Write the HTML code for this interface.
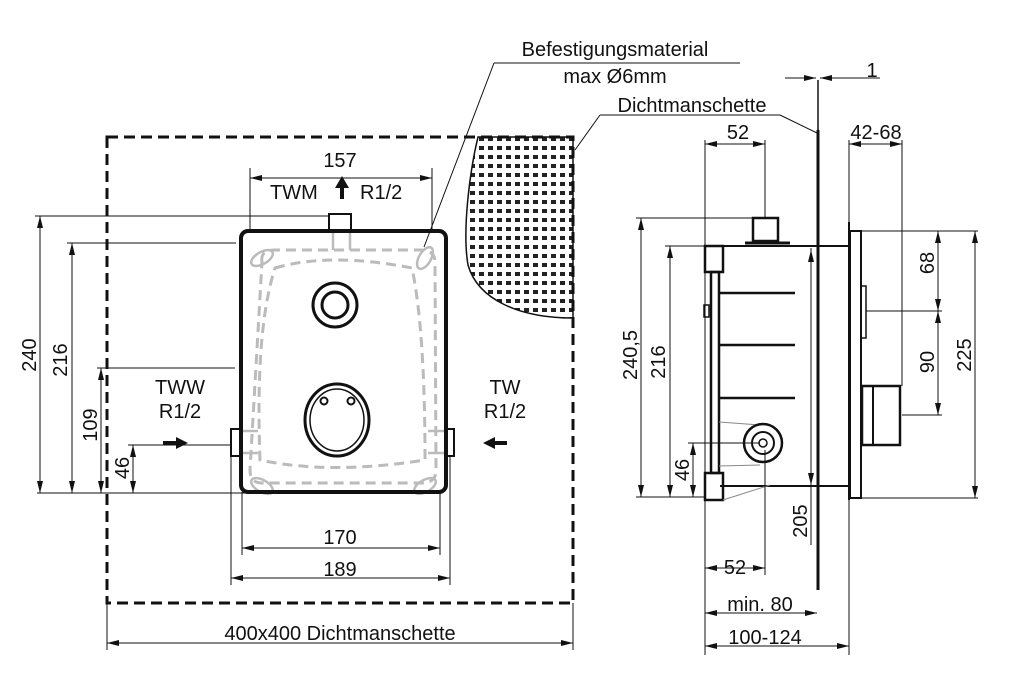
<!DOCTYPE html>
<html><head><meta charset="utf-8"><style>
html,body{margin:0;padding:0;background:#fff;}
svg{display:block;}
text{font-family:"Liberation Sans",Arial,sans-serif;font-size:20px;fill:#111;}
</style></head><body>
<svg width="1014" height="693" viewBox="0 0 1014 693" xmlns="http://www.w3.org/2000/svg">
<defs>
<marker id="a" viewBox="0 0 12 6" refX="12" refY="3" markerWidth="12" markerHeight="6" orient="auto-start-reverse" markerUnits="userSpaceOnUse"><path d="M0,0 L12,3 L0,6 Z" fill="#111"/></marker>
<pattern id="dots" width="9" height="9" patternUnits="userSpaceOnUse"><rect x="2" y="2" width="5" height="4" fill="#222"/></pattern>
</defs>
<g stroke="#111" fill="none" stroke-width="1">
<path d="M478,137 C470,170 462,230 468,265 C478,300 520,318 573,318 L573,137 Z" fill="url(#dots)" stroke="#111" stroke-width="1.5"/>
<rect x="107" y="137" width="466" height="466" stroke-width="3" stroke-dasharray="11,6"/>
<g stroke="#bbb" stroke-width="3" stroke-dasharray="10,6">
<path d="M262,262 Q260,250 275,250 L420,250 Q435,250 435,262 L436,470 Q436,483 422,483 L262,483 Q250,483 250,470 Z"/>
<path d="M275,268 Q330,252 412,268 Q425,330 425,460 Q330,475 260,460 Q255,330 275,268 Z"/>
</g>
<g stroke="#bbb" stroke-width="2.5">
<ellipse cx="262" cy="258" rx="12" ry="6" transform="rotate(-30 262 258)"/>
<ellipse cx="425" cy="258" rx="12" ry="6" transform="rotate(-60 425 258)"/>
<ellipse cx="262" cy="486" rx="12" ry="6" transform="rotate(30 262 486)"/>
<ellipse cx="425" cy="486" rx="12" ry="6" transform="rotate(-30 425 486)"/>
<line x1="333" y1="232" x2="333" y2="250"/><line x1="350" y1="232" x2="350" y2="250"/>
<line x1="240" y1="431" x2="258" y2="431"/><line x1="240" y1="453" x2="258" y2="453"/>
<line x1="428" y1="431" x2="446" y2="431"/><line x1="428" y1="453" x2="446" y2="453"/>
</g>
<rect x="241" y="231" width="205" height="261" rx="7" stroke-width="4"/>
<rect x="329" y="214" width="22" height="17" stroke-width="2"/>
<rect x="231" y="429" width="10" height="27" stroke-width="2"/>
<rect x="446" y="429" width="8" height="27" stroke-width="2"/>
<circle cx="335" cy="305" r="22" stroke-width="3"/><circle cx="335" cy="305" r="13" stroke-width="3"/>
<ellipse cx="337" cy="420" rx="32" ry="36" stroke-width="3"/><ellipse cx="337" cy="420" rx="27" ry="31" stroke-width="1.5"/>
<circle cx="324" cy="401" r="3.5" stroke-width="2"/><circle cx="351" cy="401" r="3.5" stroke-width="2"/>
<line x1="250" y1="168" x2="250" y2="232"/><line x1="432" y1="168" x2="432" y2="232"/>
<line x1="250" y1="178" x2="432" y2="178" marker-start="url(#a)" marker-end="url(#a)"/>
<line x1="35" y1="216" x2="330" y2="216"/>
<line x1="67" y1="243" x2="236" y2="243"/>
<line x1="97" y1="368" x2="235" y2="368"/>
<line x1="128" y1="445" x2="230" y2="445"/>
<line x1="37" y1="493" x2="268" y2="493"/>
<line x1="40" y1="216" x2="40" y2="493" marker-start="url(#a)" marker-end="url(#a)"/>
<line x1="72" y1="243" x2="72" y2="493" marker-start="url(#a)" marker-end="url(#a)"/>
<line x1="101" y1="368" x2="101" y2="493" marker-start="url(#a)" marker-end="url(#a)"/>
<line x1="133" y1="445" x2="133" y2="493" marker-start="url(#a)" marker-end="url(#a)"/>
<line x1="231" y1="456" x2="231" y2="585"/><line x1="242" y1="492" x2="242" y2="555"/>
<line x1="440" y1="492" x2="440" y2="555"/><line x1="450" y1="456" x2="450" y2="585"/>
<line x1="242" y1="548" x2="440" y2="548" marker-start="url(#a)" marker-end="url(#a)"/>
<line x1="231" y1="578" x2="450" y2="578" marker-start="url(#a)" marker-end="url(#a)"/>
<line x1="107" y1="603" x2="107" y2="650"/><line x1="573" y1="603" x2="573" y2="650"/>
<line x1="107" y1="643" x2="573" y2="643" marker-start="url(#a)" marker-end="url(#a)"/>
<line x1="494" y1="63" x2="740" y2="63"/><line x1="494" y1="63" x2="424" y2="247"/>
<line x1="600" y1="115" x2="780" y2="115"/><line x1="600" y1="115" x2="575" y2="150"/><line x1="780" y1="115" x2="817" y2="133"/>
<line x1="818" y1="130" x2="818" y2="590" stroke-width="3"/>
<line x1="818" y1="80" x2="818" y2="130" stroke-width="1.5"/>
<line x1="785" y1="78" x2="816" y2="78" marker-end="url(#a)"/>
<line x1="880" y1="78" x2="820" y2="78" marker-end="url(#a)"/>
<line x1="720" y1="246" x2="849" y2="246" stroke-width="2"/>
<line x1="720" y1="486" x2="849" y2="486" stroke-width="2"/>
<rect x="705" y="246" width="18" height="26" stroke-width="2.5"/>
<rect x="705" y="473" width="18" height="27" stroke-width="2.5"/>
<rect x="711" y="272" width="8" height="201" stroke-width="2.5"/>
<rect x="704" y="305" width="5" height="12" stroke-width="1.5"/>
<g stroke-width="2.5"><line x1="719" y1="293" x2="795" y2="293"/><line x1="719" y1="345" x2="795" y2="345"/><line x1="719" y1="398" x2="795" y2="398"/></g>
<rect x="753" y="218" width="25" height="23" stroke-width="2.5"/>
<line x1="745" y1="243" x2="790" y2="243" stroke-width="3"/>
<path d="M719,422 L760,425 M719,466 L760,465 M723,500 L770,485" stroke="#888"/>
<circle cx="763" cy="443" r="19" stroke-width="2.5"/><circle cx="763" cy="443" r="11" stroke-width="2"/><circle cx="763" cy="443" r="4" stroke-width="1.5"/>
<line x1="849" y1="222" x2="849" y2="500" stroke-width="2"/>
<rect x="850" y="231" width="11" height="267" stroke-width="2"/>
<rect x="861" y="286" width="5" height="52" stroke-width="1.5"/>
<rect x="862" y="386" width="38" height="59" stroke-width="2.5"/><line x1="873" y1="386" x2="873" y2="445" stroke-width="2"/>
<line x1="705" y1="140" x2="705" y2="655"/>
<line x1="765" y1="140" x2="765" y2="218"/>
<line x1="705" y1="144" x2="765" y2="144" marker-start="url(#a)" marker-end="url(#a)"/>
<line x1="849" y1="140" x2="849" y2="222"/><line x1="902" y1="140" x2="902" y2="386"/>
<line x1="849" y1="144" x2="902" y2="144" marker-start="url(#a)" marker-end="url(#a)"/>
<line x1="636" y1="218" x2="753" y2="218"/><line x1="665" y1="246" x2="705" y2="246"/>
<line x1="636" y1="497" x2="705" y2="497"/>
<line x1="688" y1="443" x2="760" y2="443"/>
<line x1="641" y1="218" x2="641" y2="497" marker-start="url(#a)" marker-end="url(#a)"/>
<line x1="670" y1="246" x2="670" y2="497" marker-start="url(#a)" marker-end="url(#a)"/>
<line x1="693" y1="443" x2="693" y2="497" marker-start="url(#a)" marker-end="url(#a)"/>
<line x1="811" y1="248" x2="811" y2="545"/>
<line x1="811" y1="250" x2="811" y2="485" marker-start="url(#a)" marker-end="url(#a)"/>
<line x1="862" y1="231" x2="978" y2="231"/><line x1="862" y1="498" x2="978" y2="498"/>
<line x1="866" y1="311" x2="942" y2="311"/><line x1="902" y1="415" x2="942" y2="415"/>
<line x1="938" y1="231" x2="938" y2="311" marker-start="url(#a)" marker-end="url(#a)"/>
<line x1="938" y1="311" x2="938" y2="415" marker-start="url(#a)" marker-end="url(#a)"/>
<line x1="975" y1="231" x2="975" y2="498" marker-start="url(#a)" marker-end="url(#a)"/>
<line x1="765" y1="450" x2="765" y2="575"/>
<line x1="705" y1="568" x2="765" y2="568" marker-start="url(#a)" marker-end="url(#a)"/>
<line x1="705" y1="613" x2="817" y2="613" marker-start="url(#a)" marker-end="url(#a)"/>
<line x1="849" y1="500" x2="849" y2="655"/>
<line x1="705" y1="646" x2="849" y2="646" marker-start="url(#a)" marker-end="url(#a)"/>
</g>
<!-- filled arrows -->
<g fill="#111" stroke="none">
<path d="M340,199 L340,188 L335,188 L342,176 L349,188 L344,188 L344,199 Z"/>
<path d="M163,441 L176,441 L176,437 L188,443 L176,449 L176,445 L163,445 Z"/>
<path d="M507,441 L495,441 L495,437 L483,443 L495,449 L495,445 L507,445 Z"/>
</g>
<g>
<text x="615" y="56" text-anchor="middle">Befestigungsmaterial</text>
<text x="615" y="83" text-anchor="middle">max Ø6mm</text>
<text x="692" y="112" text-anchor="middle">Dichtmanschette</text>
<text x="872" y="77" text-anchor="middle">1</text>
<text x="340" y="167" text-anchor="middle">157</text>
<text x="270" y="199">TWM</text><text x="360" y="199">R1/2</text>
<text x="180" y="394" text-anchor="middle">TWW</text><text x="180" y="418" text-anchor="middle">R1/2</text>
<text x="505" y="394" text-anchor="middle">TW</text><text x="505" y="418" text-anchor="middle">R1/2</text>
<text x="340" y="544" text-anchor="middle">170</text>
<text x="340" y="576" text-anchor="middle">189</text>
<text x="340" y="640" text-anchor="middle">400x400  Dichtmanschette</text>
<text x="738" y="139" text-anchor="middle">52</text>
<text x="876" y="139" text-anchor="middle">42-68</text>
<text x="735" y="574" text-anchor="middle">52</text>
<text x="760" y="611" text-anchor="middle">min. 80</text>
<text x="765" y="644" text-anchor="middle">100-124</text>
<text transform="translate(36,355) rotate(-90)" text-anchor="middle">240</text>
<text transform="translate(67,360) rotate(-90)" text-anchor="middle">216</text>
<text transform="translate(97,425) rotate(-90)" text-anchor="middle">109</text>
<text transform="translate(129,468) rotate(-90)" text-anchor="middle">46</text>
<text transform="translate(637,355) rotate(-90)" text-anchor="middle">240,5</text>
<text transform="translate(665,362) rotate(-90)" text-anchor="middle">216</text>
<text transform="translate(689,470) rotate(-90)" text-anchor="middle">46</text>
<text transform="translate(807,521) rotate(-90)" text-anchor="middle">205</text>
<text transform="translate(934,263) rotate(-90)" text-anchor="middle">68</text>
<text transform="translate(934,362) rotate(-90)" text-anchor="middle">90</text>
<text transform="translate(971,355) rotate(-90)" text-anchor="middle">225</text>
</g>
</svg>
</body></html>
